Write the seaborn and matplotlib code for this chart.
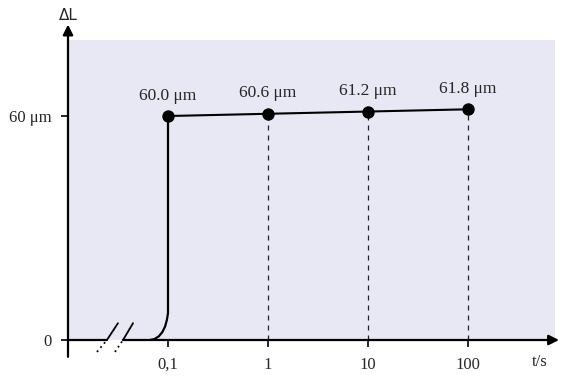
import matplotlib
matplotlib.use("Agg")
import matplotlib.pyplot as plt
import seaborn as sns
import pandas as pd

# measured points
t_points = [0.1, 1, 10, 100]
dl_points = [60.0, 60.6, 61.2, 61.8]
point_labels = ["60.0 μm", "60.6 μm", "61.2 μm", "61.8 μm"]

# rise curve near t = 0.1 s
curve_t = [0.066, 0.0733, 0.0808, 0.0877, 0.0935, 0.0975, 0.1, 0.1]
curve_dl = [0.0, 0.25, 0.97, 2.1, 3.6, 5.4, 7.2, 60.0]

xtick_vals = [0.1, 1, 10, 100]
xtick_labels = ["0,1", "1", "10", "100"]
ytick_vals = [0, 60]
ytick_labels = ["0", "60 μm"]

sns.set_theme(style="white")
plt.rcParams["font.family"] = ["Liberation Serif", "DejaVu Serif"]

fig = plt.figure(figsize=(5.63, 3.8), dpi=100)
ax = fig.add_axes([68 / 563, 40 / 380, (555 - 68) / 563, 300 / 380])
ax.set_facecolor("#e7e8f4")
ax.set_xscale("log")
ax.set_xlim(0.01, 10 ** 2.87)
ax.set_ylim(0, 300 / 3.733)
for s in ax.spines.values():
    s.set_visible(False)

df = pd.DataFrame({"t": t_points, "dl": dl_points})
curve = pd.DataFrame({"t": curve_t, "dl": curve_dl})
sns.lineplot(data=curve, x="t", y="dl", sort=False, estimator=None,
             color="black", lw=1.6, ax=ax)
sns.lineplot(data=df, x="t", y="dl", estimator=None, color="black", lw=1.5, ax=ax)
sns.scatterplot(data=df, x="t", y="dl", color="black", edgecolor="black",
                linewidth=0, s=80, zorder=5, ax=ax)

for t, v, lab in zip(t_points, dl_points, point_labels):
    if t > 0.1:
        ax.plot([t, t], [0, v], color="#222222", ls=(0, (4, 4)), lw=0.9)
    ax.annotate(lab, (t, v), xytext=(0, 9), textcoords="offset points",
                ha="center", va="bottom", fontsize=12.5)

# axes with arrows
ax.plot([0.01, 0.0245], [0, 0], color="black", lw=1.6, clip_on=False)
ax.annotate("", xy=(10 ** 2.91, 0), xytext=(0.0355, 0),
            arrowprops=dict(arrowstyle="-|>", color="black", lw=1.6,
                            mutation_scale=15, shrinkA=0, shrinkB=0),
            annotation_clip=False)
ax.annotate("", xy=(0.01, 84.5), xytext=(0.01, -4.5),
            arrowprops=dict(arrowstyle="-|>", color="black", lw=1.6,
                            mutation_scale=15, shrinkA=0, shrinkB=0),
            annotation_clip=False)

# axis break marks
for x0, x1, x2 in [(0.0245, 0.0316, 0.0195), (0.0355, 0.0447, 0.0295)]:
    ax.plot([x0, x1], [0, 4.5], color="black", lw=1.3, clip_on=False)
    ax.plot([x2, x0], [-3.2, 0], color="black", lw=1.3, ls=(0, (1, 2)), clip_on=False)

ax.set_xticks(xtick_vals)
ax.set_xticklabels(xtick_labels)
ax.minorticks_off()
ax.set_yticks(ytick_vals)
ax.set_yticklabels(ytick_labels)
ax.tick_params(axis="both", direction="out", length=5, width=1.2, color="black",
               labelsize=12, bottom=True, left=True, pad=7)
ax.set_xlabel("")
ax.set_ylabel("")

fig.text(68 / 563, 1 - 15 / 380, "ΔL", ha="center", va="center", fontsize=11,
         family="DejaVu Sans")
fig.text(540 / 563, 1 - 362 / 380, "t/s", ha="center", va="center", fontsize=12)

fig.savefig("out.png", dpi=100)
